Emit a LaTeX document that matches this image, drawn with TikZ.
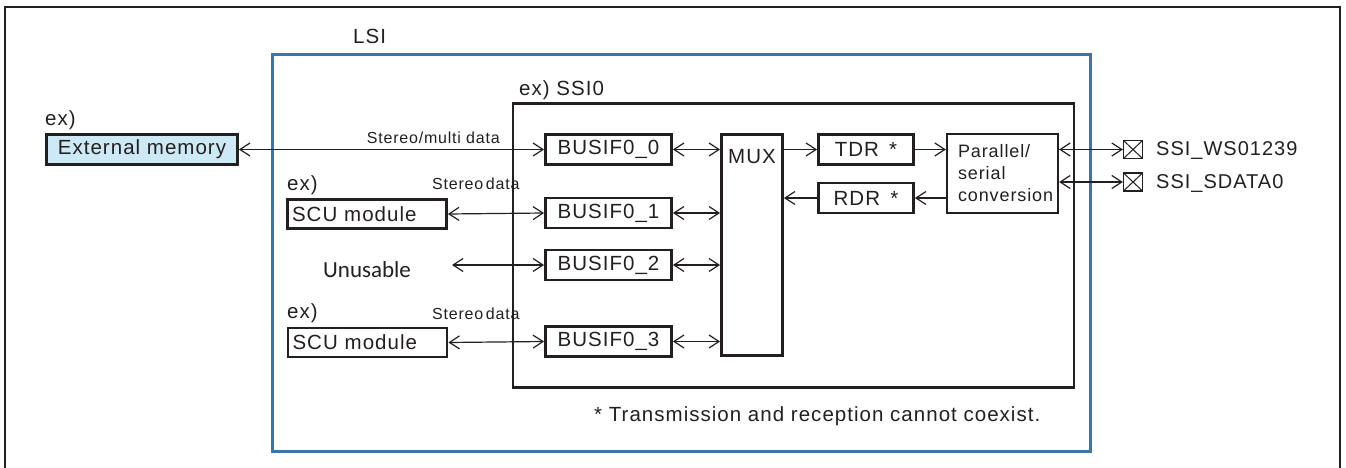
\documentclass[tikz,border=0pt]{standalone}
\usepackage{fontspec}
\setmainfont{Liberation Sans}[LetterSpace=5]
\newfontfamily\calfont{Carlito}
\usetikzlibrary{arrows.meta}
\definecolor{ink}{RGB}{35,31,32}
\definecolor{lsiblue}{RGB}{58,118,170}
\definecolor{memfill}{RGB}{205,233,245}

\begin{document}
\begin{tikzpicture}[x=1pt,y=-1pt,>={Straight Barb[length=10pt,width=13pt]},
  every node/.style={text=ink},
  big/.style={font=\fontsize{20.5}{24}\selectfont},
  small/.style={font=\fontsize{16}{19}\selectfont},
  blk/.style={draw=ink,line width=2.8pt,inner sep=0pt,big},
  pin/.style={draw=ink,line width=1.2pt,inner sep=0pt,minimum width=19,minimum height=18,
    path picture={\draw[ink,line width=1pt]
      (path picture bounding box.north west) -- (path picture bounding box.south east)
      (path picture bounding box.south west) -- (path picture bounding box.north east);}},
  link/.style={draw=ink,line width=1.2pt}]
  \useasboundingbox (0,0) rectangle (1346,468);
  \draw[ink,line width=2pt] (5,468) -- (5,7) -- (1340,7) -- (1340,468);

  % containers
  \node (lsi) [draw=lsiblue,line width=3pt,minimum width=818,minimum height=397] at (681.5,253) {};
  \node (ssi) [draw=ink,line width=2.8pt,minimum width=561,minimum height=284] at (793.5,245.5) {};
  \node (lsiT) [big,anchor=base west,inner sep=0pt] at (353,44) {LSI};
  \node (ssiT) [big,anchor=base west,inner sep=0pt] at (519,96) {ex) SSI0};

  % outside the SSI
  \node (exA) [big,anchor=base west,inner sep=0pt] at (45,125) {ex)};
  \node (mem) [blk,fill=memfill,minimum width=191,minimum height=30] at (142,149.5) {External memory};
  \node (exB) [big,anchor=base west,inner sep=0pt] at (287,190) {ex)};
  \node (scuA) [blk,text width=150,inner xsep=4.5pt,align=left,minimum height=29] at (367,214) {SCU module};
  \node (unus) [font=\calfont\fontsize{23}{27}\selectfont,anchor=base west,inner sep=0pt] at (323,277) {Unusable};
  \coordinate (unusR) at (452,265);
  \node (exC) [big,anchor=base west,inner sep=0pt] at (287,318) {ex)};
  \node (scuB) [blk,text width=150,inner xsep=4.5pt,align=left,minimum height=29] at (367.5,342.5) {SCU module};
  \node (multi) [small,anchor=base east,inner sep=0pt] at (500,143) {Stereo/multi data};
  \node (stA) [small,anchor=base west,inner sep=0pt] at (432,189) {Stereo\,data};
  \node (stB) [small,anchor=base west,inner sep=0pt] at (432,319) {Stereo\,data};

  % inside the SSI
  \node (b0) [blk,minimum width=126,minimum height=30] at (608.5,149.5) {BUSIF0\_0};
  \node (b1) [blk,minimum width=126,minimum height=30] at (608.5,213) {BUSIF0\_1};
  \node (b2) [blk,minimum width=126,minimum height=30] at (608.5,265) {BUSIF0\_2};
  \node (b3) [blk,minimum width=126,minimum height=30] at (608.5,341.5) {BUSIF0\_3};
  \node (mux) [blk,minimum width=61,minimum height=221,
    label={[big,anchor=north,inner sep=0pt,yshift=-16pt]north:MUX}] at (752,245) {};
  \node (tdr) [blk,minimum width=95,minimum height=30] at (866,149.5) {TDR\enspace*};
  \node (rdr) [blk,minimum width=95,minimum height=30] at (866,198) {RDR\enspace*};
  \node (par) [draw=ink,line width=2.2pt,inner xsep=11pt,inner ysep=0pt,text width=89,align=left,
    minimum height=79,font=\fontsize{18}{22}\selectfont] at (1002.5,173.5) {Parallel/\\serial\\conversion};

  % pins
  \node (pinA) [pin] at (1133,149.5) {};
  \node (pinB) [pin] at (1133,182) {};
  \node (pinAT) [font=\fontsize{20}{24}\selectfont,anchor=base west,inner sep=0pt] at (1156,155) {SSI\_WS01239};
  \node (pinBT) [font=\fontsize{20}{24}\selectfont,anchor=base west,inner sep=0pt] at (1156,188) {SSI\_SDATA0};

  \node (note) [big,anchor=base west,inner sep=0pt] at (594,421) {* Transmission and reception cannot coexist.};

  % connectors
  \draw[link,<->] (mem) -- (b0);
  \draw[link,<->] (scuA.east) -- (b1.west);
  \draw[link,<->] (unusR) -- (b2.west);
  \draw[link,<->] (scuB.east) -- (b3.west);
  \foreach \b in {b0,b1,b2,b3}
    \draw[link,<->] (\b.east) -- (\b.east -| mux.west);
  \draw[link,->] (tdr.west -| mux.east) -- (tdr.west);
  \draw[link,->] (tdr.east) -- (tdr.east -| par.west);
  \draw[link,->] (rdr.east -| par.west) -- (rdr.east);
  \draw[link,->] (rdr.west) -- (rdr.west -| mux.east);
  \draw[link,<->] (pinA.west -| par.east) -- (pinA.west);
  \draw[link,<->] (pinB.west -| par.east) -- (pinB.west);
\end{tikzpicture}
\end{document}
